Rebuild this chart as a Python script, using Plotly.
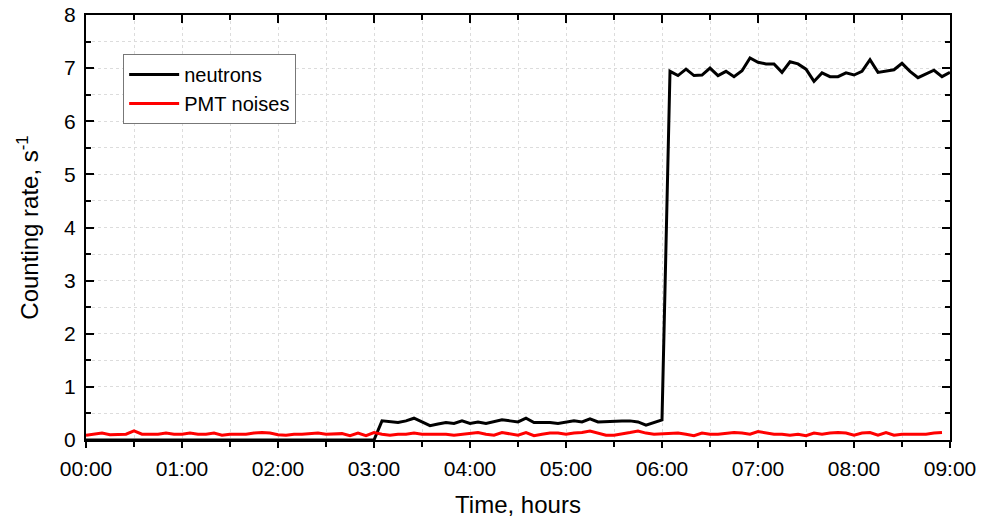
import pandas as pd
import plotly.graph_objects as go

# ---- data (5-minute samples) ----
times = pd.date_range("2000-01-01 00:00", periods=109, freq="5min")

neutrons = (
    [0.0] * 37 +  # 00:00 .. 03:00
    [0.36, 0.35, 0.33, 0.36, 0.41, 0.34, 0.27, 0.30, 0.33, 0.31, 0.36, 0.31,
     0.34, 0.31, 0.34, 0.38, 0.36, 0.34, 0.41, 0.33, 0.33, 0.33, 0.31, 0.34,
     0.36, 0.34, 0.40, 0.34, 0.35, 0.36, 0.36, 0.36, 0.34, 0.28, 0.33, 0.38] +  # 03:05 .. 06:00
    [6.94, 6.86, 6.98, 6.86, 6.87, 7.00, 6.86, 6.94, 6.84, 6.95, 7.19, 7.11,
     7.08, 7.08, 6.92, 7.12, 7.08, 6.98, 6.75, 6.91, 6.84, 6.84, 6.91, 6.87,
     6.94, 7.16, 6.92, 6.95, 6.97, 7.09, 6.94, 6.82, 6.89, 6.96, 6.84, 6.92]   # 06:05 .. 09:00
)

pmt_noises = (
    [0.09, 0.11, 0.13, 0.10, 0.10, 0.11, 0.17, 0.11, 0.11, 0.11, 0.13, 0.11,
     0.11, 0.13, 0.11, 0.11, 0.13, 0.09, 0.11, 0.11, 0.11, 0.13, 0.14, 0.13,
     0.10, 0.09, 0.11, 0.11, 0.12, 0.13, 0.11, 0.11, 0.12, 0.08, 0.13, 0.08,
     0.14] +  # 00:00 .. 03:00
    [0.11, 0.09, 0.11, 0.11, 0.13, 0.11, 0.11, 0.11, 0.11, 0.09, 0.11, 0.13,
     0.14, 0.11, 0.09, 0.14, 0.11, 0.09, 0.14, 0.08, 0.11, 0.13, 0.13, 0.11,
     0.13, 0.14, 0.17, 0.13, 0.09, 0.09, 0.11, 0.14, 0.17, 0.13, 0.11] +  # 03:05 .. 05:55
    [0.12, 0.13, 0.13, 0.11, 0.08, 0.13, 0.11, 0.11, 0.13, 0.14, 0.13, 0.11,
     0.16, 0.13, 0.11, 0.11, 0.09, 0.11, 0.08, 0.13, 0.11, 0.13, 0.14, 0.13,
     0.09, 0.13, 0.14, 0.09, 0.14, 0.09, 0.11, 0.11, 0.11, 0.11, 0.13, 0.14]   # 06:00 .. 08:55
)

x_range = ["2000-01-01 00:00", "2000-01-01 09:00"]
y_range = [0, 8]
y_ticks = [0, 1, 2, 3, 4, 5, 6, 7, 8]

FONT = "Liberation Sans, Arial, sans-serif"
GRID = "#dcdcdc"

fig = go.Figure()
fig.add_trace(go.Scatter(x=times, y=neutrons, mode="lines", name="neutrons",
                         line=dict(color="black", width=3)))
fig.add_trace(go.Scatter(x=times[:len(pmt_noises)], y=pmt_noises, mode="lines",
                         name="PMT noises", line=dict(color="#ff0000", width=3)))
# helper (invisible) trace so the top mirror axis is drawn
fig.add_trace(go.Scatter(x=times, y=neutrons, mode="lines", xaxis="x2",
                         line=dict(color="rgba(0,0,0,0)", width=0),
                         showlegend=False, hoverinfo="skip"))

fig.update_layout(
    width=987, height=518,
    margin=dict(l=86, r=37, t=15, b=78, autoexpand=False),
    paper_bgcolor="white", plot_bgcolor="white",
    font=dict(family=FONT, color="black", size=21),
    showlegend=True,
    legend=dict(x=0.043, y=0.908, xanchor="left", yanchor="top",
                bgcolor="white", bordercolor="#777777", borderwidth=1,
                font=dict(size=20, family=FONT), tracegroupgap=0,
                itemwidth=50),
    xaxis=dict(
        type="date", range=x_range, dtick=3600000, tickformat="%H:%M",
        showline=True, linecolor="black", linewidth=2,
        ticks="outside", ticklen=6, tickwidth=1.5, tickcolor="black",
        showgrid=True, gridcolor=GRID, griddash="dot", gridwidth=1,
        minor=dict(dtick=1800000, ticks="outside", ticklen=5, tickwidth=1.5,
                   tickcolor="black", showgrid=True, gridcolor=GRID,
                   griddash="dot", gridwidth=1),
        zeroline=False, mirror=False, automargin=False,
        tickfont=dict(size=21), ticklabelstandoff=3,
        title=dict(text="Time, hours", font=dict(size=24), standoff=18),
    ),
    xaxis2=dict(
        type="date", range=x_range, dtick=3600000, overlaying="x", side="top",
        matches="x", showticklabels=False, automargin=False,
        showline=True, linecolor="black", linewidth=2,
        ticks="inside", ticklen=8, tickwidth=1.5, tickcolor="black",
        showgrid=False,
        minor=dict(dtick=1800000, ticks="inside", ticklen=5, tickwidth=1.5,
                   tickcolor="black", showgrid=False),
    ),
    yaxis=dict(
        range=y_range, tickvals=y_ticks,
        showline=True, linecolor="black", linewidth=2, mirror="ticks",
        ticks="inside", ticklen=8, tickwidth=1.5, tickcolor="black",
        showgrid=True, gridcolor=GRID, griddash="dot", gridwidth=1,
        minor=dict(dtick=0.5, ticks="inside", ticklen=5, tickwidth=1.5,
                   tickcolor="black", showgrid=True, gridcolor=GRID,
                   griddash="dot", gridwidth=1),
        zeroline=False, automargin=False,
        tickfont=dict(size=21), ticklabelstandoff=4,
        title=dict(text="Counting rate, s<sup>-1</sup>", font=dict(size=24), standoff=19),
    ),
)

fig.write_html("out.html", config={"displayModeBar": False},
               post_script="document.body.style.margin='0';")
